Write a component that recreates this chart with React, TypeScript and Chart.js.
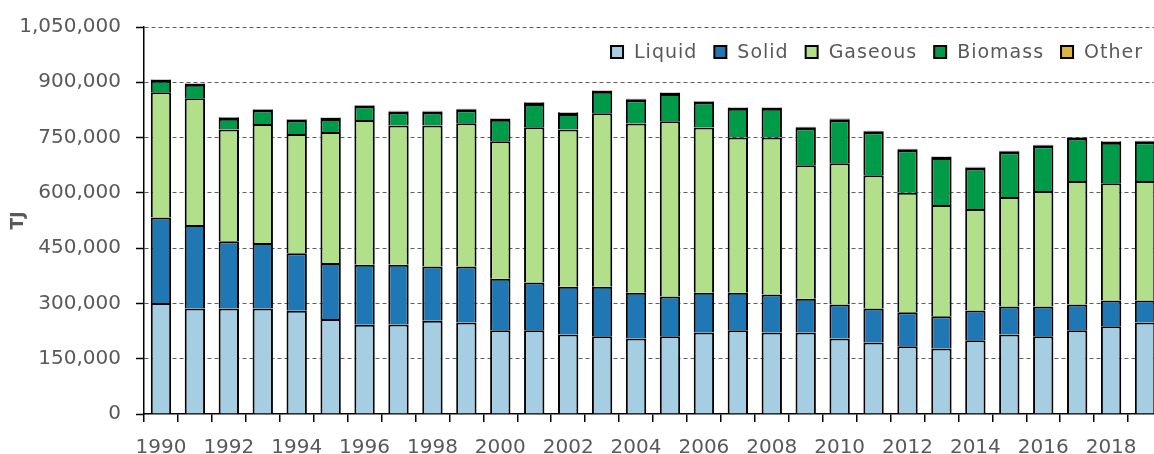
import { useEffect, useRef } from 'react';
import { Chart, registerables } from 'chart.js';

Chart.register(...registerables);

const FONT = "'DejaVu Sans', sans-serif";
const TEXT_COLOR = '#595959';

const years = [
  '1990', '1991', '1992', '1993', '1994', '1995', '1996', '1997', '1998', '1999',
  '2000', '2001', '2002', '2003', '2004', '2005', '2006', '2007', '2008', '2009',
  '2010', '2011', '2012', '2013', '2014', '2015', '2016', '2017', '2018', '2019',
];
const shownYearLabels = [
  '1990', '1992', '1994', '1996', '1998', '2000', '2002', '2004', '2006', '2008',
  '2010', '2012', '2014', '2016', '2018',
];

// TJ
const liquid = [
  301000, 286000, 286000, 286000, 280000, 258000, 242000, 243000, 253000, 248000,
  227000, 227000, 216000, 211000, 205000, 211000, 221000, 227000, 221000, 221000,
  205000, 194000, 184000, 178000, 200000, 216000, 211000, 227000, 238000, 248000,
];
const solid = [
  232000, 227000, 183000, 178000, 156000, 152000, 163000, 162000, 147000, 152000,
  140000, 130000, 129000, 134000, 124000, 108000, 108000, 102000, 103000, 92000,
  92000, 92000, 92000, 87000, 81000, 76000, 81000, 70000, 70000, 60000,
];
const gaseous = [
  340000, 344000, 303000, 323000, 324000, 355000, 393000, 378000, 383000, 389000,
  373000, 421000, 427000, 471000, 459000, 475000, 448000, 421000, 426000, 362000,
  383000, 362000, 324000, 302000, 275000, 297000, 313000, 335000, 318000, 324000,
];
const biomass = [
  34000, 39000, 32000, 39000, 39000, 38000, 39000, 38000, 38000, 38000,
  61000, 66000, 45000, 61000, 66000, 77000, 71000, 81000, 81000, 103000,
  120000, 119000, 118000, 130000, 113000, 124000, 124000, 118000, 113000, 108000,
];
const other = [
  1500, 1500, 1500, 1500, 1500, 1500, 1500, 1500, 1500, 1500,
  1500, 1500, 1500, 1500, 1500, 1500, 1500, 1500, 1500, 1500,
  1500, 1500, 1500, 1500, 1500, 1500, 1500, 1500, 1500, 1500,
];

const seriesNames = ['Liquid', 'Solid', 'Gaseous', 'Biomass', 'Other'];
const seriesColors = ['#A6CEE3', '#1F78B4', '#B2DF8A', '#009B48', '#DDB543'];

const yAxisMin = 0;
const yAxisMax = 1050000;
const yAxisStep = 150000;
const yAxisTitle = 'TJ';

const insideLegend = {
  id: 'insideLegend',
  afterDraw(chart: any) {
    const { ctx, chartArea } = chart;
    ctx.save();
    ctx.font = `19px ${FONT}`;
    try {
      (ctx as any).letterSpacing = '1px';
    } catch (e) {
      /* ignore */
    }
    const box = 12;
    const gap = 11;
    const itemGap = 17;
    const items = chart.data.datasets.map((ds: any) => ({
      label: ds.label as string,
      color: ds.backgroundColor as string,
      w: box + gap + ctx.measureText(ds.label).width,
    }));
    const total =
      items.reduce((s: number, it: any) => s + it.w, 0) + itemGap * (items.length - 1);
    let x = chartArea.right - 19 - total;
    const cy = chartArea.top + 25;
    ctx.textBaseline = 'middle';
    ctx.textAlign = 'left';
    for (const it of items) {
      ctx.fillStyle = it.color;
      ctx.fillRect(x, cy - box / 2, box, box);
      ctx.lineWidth = 2;
      ctx.strokeStyle = '#000';
      ctx.strokeRect(x, cy - box / 2, box, box);
      ctx.fillStyle = TEXT_COLOR;
      ctx.fillText(it.label, x + box + gap, cy + 1);
      x += it.w + itemGap;
    }
    ctx.restore();
  },
};

export default function App() {
  const canvasRef = useRef<HTMLCanvasElement | null>(null);

  useEffect(() => {
    const canvas = canvasRef.current;
    if (!canvas) return;
    const values = [liquid, solid, gaseous, biomass, other];
    const chart = new Chart(canvas, {
      type: 'bar',
      data: {
        labels: years,
        datasets: seriesNames.map((name, i) => ({
          label: name,
          data: values[i],
          backgroundColor: seriesColors[i],
          borderColor: '#000000',
          borderWidth: name === 'Biomass' ? { top: 3, left: 2, right: 2, bottom: 0 } : 2,
          categoryPercentage: 1,
          barPercentage: 0.6,
        })),
      },
      options: {
        responsive: false,
        animation: false,
        layout: { padding: { top: 25, left: 0, right: 8, bottom: 0 } },
        plugins: {
          legend: { display: false },
          tooltip: { enabled: false },
        },
        scales: {
          x: {
            stacked: true,
            afterFit: (scale: any) => {
              scale.height = 40;
            },
            grid: {
              display: true,
              drawOnChartArea: false,
              drawTicks: true,
              tickLength: 8,
              color: '#000',
              lineWidth: 1.5,
            },
            border: { display: true, color: '#000', width: 1.5 },
            ticks: {
              autoSkip: false,
              maxRotation: 0,
              minRotation: 0,
              padding: 14,
              color: TEXT_COLOR,
              font: { family: FONT, size: 20 },
              callback: (_v: any, idx: number) =>
                shownYearLabels.includes(years[idx]) ? years[idx] : '',
            },
          },
          y: {
            stacked: true,
            min: yAxisMin,
            max: yAxisMax,
            afterFit: (scale: any) => {
              scale.width = 144;
            },
            grid: {
              color: (c: any) => (c.tick && c.tick.value === 0 ? 'rgba(0,0,0,0)' : '#5e5e5e'),
              lineWidth: 1,
              tickColor: '#000',
              tickWidth: 1.5,
              tickLength: 8,
            },
            border: { display: true, color: '#000', width: 1.5, dash: [4, 3] },
            ticks: {
              stepSize: yAxisStep,
              padding: 15,
              color: TEXT_COLOR,
              font: { family: FONT, size: 20 },
              callback: (v: any) => Number(v).toLocaleString('en-US'),
            },
            title: {
              display: true,
              text: yAxisTitle,
              color: TEXT_COLOR,
              font: { family: FONT, size: 17, weight: 'bold' },
              padding: { top: 8, bottom: 0 },
            },
          },
        },
      },
      plugins: [insideLegend],
    });
    return () => chart.destroy();
  }, []);

  return (
    <div
      style={{
        position: 'fixed',
        left: 0,
        top: 0,
        width: 1154,
        height: 454,
        overflow: 'hidden',
        background: '#fff',
      }}
    >
      <canvas ref={canvasRef} width={1170} height={454} style={{ display: 'block' }} />
    </div>
  );
}
